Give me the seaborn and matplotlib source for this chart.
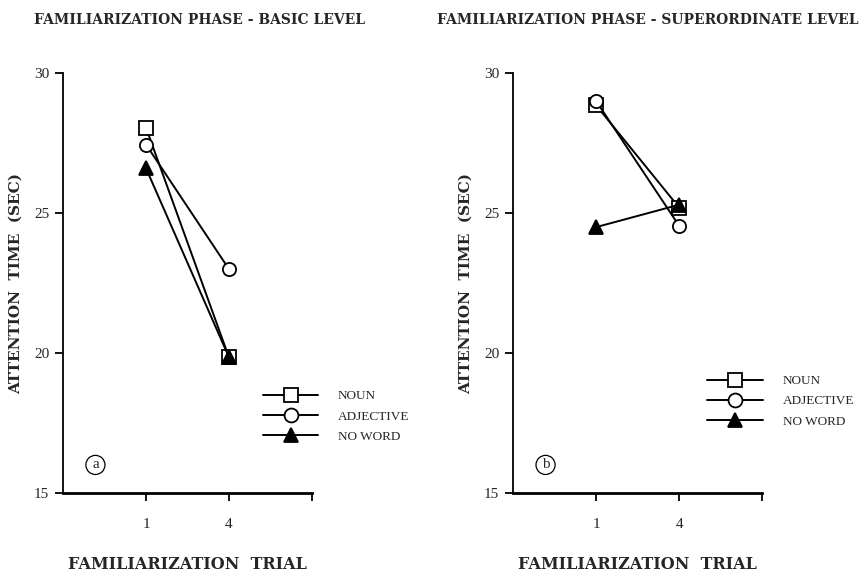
import numpy as np
import pandas as pd
import matplotlib
matplotlib.use("Agg")
import matplotlib.pyplot as plt
import seaborn as sns

# data
trials = ["1", "4"]
conditions = ["NOUN", "ADJECTIVE", "NO WORD"]
basic_noun = [28.05, 19.85]
basic_adjective = [27.45, 23.0]
basic_noword = [26.6, 19.85]
super_noun = [28.85, 25.2]
super_adjective = [29.0, 24.55]
super_noword = [24.5, 25.3]

titles = ["FAMILIARIZATION PHASE - BASIC LEVEL",
          "FAMILIARIZATION PHASE - SUPERORDINATE LEVEL"]
panel_tags = ["a", "b"]

markers = {"NOUN": "s", "ADJECTIVE": "o", "NO WORD": "^"}
facecols = {"NOUN": "white", "ADJECTIVE": "white", "NO WORD": "black"}


def make_df(noun, adj, noword):
    rows = []
    for cond, vals in zip(conditions, [noun, adj, noword]):
        for t, v in zip(trials, vals):
            rows.append({"trial": t, "condition": cond, "time": v})
    return pd.DataFrame(rows)


panels = [make_df(basic_noun, basic_adjective, basic_noword),
          make_df(super_noun, super_adjective, super_noword)]

sns.set_style("white")
plt.rcParams["font.family"] = ["Liberation Serif", "DejaVu Serif"]
wide = dict(family="DejaVu Serif", fontweight="bold")

fig = plt.figure(figsize=(8.64, 5.76), dpi=100)
ax_pos = [[0.073, 0.144, 0.288, 0.729], [0.594, 0.144, 0.288, 0.729]]
leg_pos = [(0.803, 0.245), (0.78, 0.281)]
title_x = [0.231, 0.75]

for i, df in enumerate(panels):
    ax = fig.add_axes(ax_pos[i])
    for cond in conditions:
        sub = df[df.condition == cond]
        sns.lineplot(data=sub, x="trial", y="time", ax=ax, color="black",
                     marker=markers[cond], markerfacecolor=facecols[cond],
                     markeredgecolor="black", markeredgewidth=1.3,
                     markersize=9.5, linewidth=1.4, label=cond)
    ax.set_xlim(-1, 2)
    ax.set_ylim(15, 30)
    ax.set_xticks([0, 1, 2])
    ax.set_xticklabels(["1", "4", ""])
    ax.set_yticks([15, 20, 25, 30])
    ax.tick_params(axis="both", direction="out", length=6, width=1.3,
                   labelsize=11, color="black", bottom=True, left=True, pad=4)
    ax.tick_params(axis="x", pad=12)
    for s in ["top", "right"]:
        ax.spines[s].set_visible(False)
    ax.spines["left"].set_linewidth(1.3)
    ax.spines["bottom"].set_linewidth(2.0)
    ax.spines["left"].set_color("black")
    ax.spines["bottom"].set_color("black")
    ax.set_xlabel("FAMILIARIZATION  TRIAL", fontsize=11.5, labelpad=18, **wide)
    ax.set_ylabel("ATTENTION  TIME  (SEC)", fontsize=11, labelpad=8, **wide)
    leg = ax.legend(loc="upper left", bbox_to_anchor=leg_pos[i], frameon=False,
                    fontsize=9.5, handlelength=4.2, labelspacing=0.6,
                    handletextpad=1.5, borderaxespad=0, borderpad=0)
    for h in leg.legend_handles:
        h.set_markersize(10)
    ax.text(0.13, 0.067, panel_tags[i], transform=ax.transAxes, fontsize=11,
            ha="center", va="center",
            bbox=dict(boxstyle="circle,pad=0.2", fc="white", ec="black", lw=0.9))
    fig.text(title_x[i], 0.965, titles[i], ha="center", va="center",
             fontsize=10, **wide)

fig.savefig("out.png", dpi=100)
